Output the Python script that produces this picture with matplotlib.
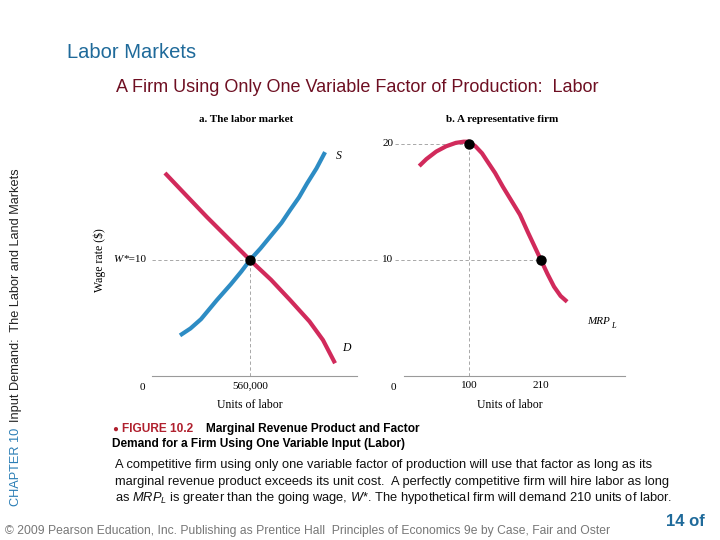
import numpy as np
import matplotlib
matplotlib.use("Agg")
import matplotlib.pyplot as plt

# ---- data ----
# panel a: labour market (x in thousands of units, y in $)
supply_x = [160, 220, 280, 371, 450, 510, 560, 620, 680, 740, 789, 840, 886, 940, 989]
supply_y = [3.5, 4.1, 4.9, 6.55, 7.9, 9.0, 10.0, 11.0, 12.1, 13.2, 14.3, 15.4, 16.6, 17.9, 19.3]
demand_x = [74, 200, 314, 440, 560, 680, 789, 900, 977, 1046]
demand_y = [17.5, 15.5, 13.7, 11.8, 10.0, 8.3, 6.55, 4.7, 3.1, 1.1]
wage_star = 10
labor_star = 560

# panel b: representative firm MRP_L
mrp_x = [24, 35, 50, 65, 80, 92, 100, 110, 120, 127, 140, 152, 165, 178,
         190, 200, 210, 220, 230, 240, 250]
mrp_y = [18.1, 18.7, 19.35, 19.8, 20.1, 20.2, 20.2, 19.8, 19.2, 18.6, 17.5,
         16.3, 15.1, 13.9, 12.4, 11.2, 10.0, 8.8, 7.7, 6.9, 6.4]
firm_pts_x = [100, 210]
firm_pts_y = [20, 10]

BLUE = "#2D8CC4"
RED = "#D12A5B"
GRID = "#9a9a9a"
SERIF = "Liberation Serif"
SANS = "Liberation Sans"

plt.rcParams["font.family"] = SANS
plt.rcParams["mathtext.fontset"] = "custom"
plt.rcParams["mathtext.rm"] = "Liberation Sans"
plt.rcParams["mathtext.it"] = "Liberation Sans:italic"

W, H = 720, 540
fig = plt.figure(figsize=(7.2, 5.4), dpi=100)


def box(x0, y0, x1, y1):
    # pixel box (top-left origin) -> figure fraction
    return [x0 / W, 1 - y1 / H, (x1 - x0) / W, (y1 - y0) / H]


def ftxt(x, y, s, **kw):
    fig.text(x / W, 1 - y / H, s, **kw)


# ---- slide text ----
ftxt(67, 53, "Labor Markets", fontsize=14.5, color="#1F6A9A", va="center")
ftxt(357, 87, "A Firm Using Only One Variable Factor of Production:  Labor",
     fontsize=13, color="#6E0F22", va="center", ha="center")

ftxt(16, 506, "CHAPTER 10", fontsize=9.2, color="#2A7DB5", rotation=90,
     va="bottom", ha="center")
ftxt(16, 422, "Input Demand:  The Labor and Land Markets", fontsize=9.2,
     color="#222222", rotation=90, va="bottom", ha="center")

ftxt(112, 429, "\u25CF", fontsize=7, color="#B0202E", va="center")
ftxt(122, 429, "FIGURE 10.2", fontsize=8.6, color="#B0202E", va="center",
     fontweight="bold")
ftxt(206, 429, "Marginal Revenue Product and Factor", fontsize=8.6,
     va="center", fontweight="bold")
ftxt(112, 444, "Demand for a Firm Using One Variable Input (Labor)", fontsize=8.6,
     va="center", fontweight="bold")

body = [
    "A competitive firm using only one variable factor of production will use that factor as long as its",
    "marginal revenue product exceeds its unit cost.  A perfectly competitive firm will hire labor as long",
    r"as $\mathit{MRP}_L$ is greater than the going wage, $\mathit{W}$*. The hypothetical firm will demand 210 units of labor.",
]
for i, line in enumerate(body):
    ftxt(115, 465 + i * 16.5, line, fontsize=9.3, color="#111111", va="center")

ftxt(5, 531, "\u00a9 2009 Pearson Education, Inc. Publishing as Prentice Hall  "
     "Principles of Economics 9e by Case, Fair and Oster",
     fontsize=8.7, color="#777777", va="center")
ftxt(685, 521, "14 of", fontsize=12, color="#1F6A9A", fontweight="bold",
     va="center", ha="center")
ftxt(685, 552, "36", fontsize=12, color="#1F6A9A", fontweight="bold",
     va="center", ha="center")

# ---- panel a: the labor market ----
px_per_x_a = 0.175
px_per_y = 11.6
ax1 = fig.add_axes(box(152, 140, 372, 376))
ax1.set_xlim(0, 220 / px_per_x_a)
ax1.set_ylim(0, 236 / px_per_y)
ax1.axis("off")

ax1.plot([0, 1171], [0, 0], color=GRID, lw=0.8, clip_on=False)
ax1.plot([0, 1290], [wage_star, wage_star], color=GRID, lw=0.6,
         ls=(0, (4, 3)), clip_on=False)
ax1.plot([labor_star, labor_star], [0, wage_star], color=GRID, lw=0.6,
         ls=(0, (4, 3)))
ax1.plot(demand_x, demand_y, color=RED, lw=3, solid_capstyle="butt")
ax1.plot(supply_x, supply_y, color=BLUE, lw=3, solid_capstyle="butt")
ax1.plot([labor_star], [wage_star], "o", color="black", ms=6.5, zorder=5)

ax1.text(1050, 19.0, "S", family=SERIF, style="italic", fontsize=8.5,
         va="center", clip_on=False)
ax1.text(1085, 2.4, "D", family=SERIF, style="italic", fontsize=8.5,
         va="center", clip_on=False)
ax1.text(-57, -1.0, "0", family=SERIF, fontsize=8, ha="center", va="center")
ax1.text(labor_star, -0.85, "560,000", family=SERIF, fontsize=8,
         ha="center", va="center")
ax1.text(labor_star, -2.5, "Units of labor", family=SERIF, fontsize=8.5,
         ha="center", va="center")
ax1.text(-30, wage_star, "*=10", family=SERIF, fontsize=8, ha="right",
         va="center")
ax1.text(-168, wage_star, "W", family=SERIF, style="italic", fontsize=8,
         ha="right", va="center")
ax1.text(-300, wage_star, "Wage rate ($)", family=SERIF, fontsize=8.5,
         rotation=90, ha="center", va="center")
ax1.text(540, 22.1, "a. The labor market", family=SERIF, fontsize=8,
         fontweight="bold", ha="center", va="center", clip_on=False)

# ---- panel b: a representative firm ----
px_per_x_b = 0.6545
ax2 = fig.add_axes(box(403.5, 140, 630, 376))
ax2.set_xlim(0, 226.5 / px_per_x_b)
ax2.set_ylim(0, 236 / px_per_y)
ax2.axis("off")

ax2.plot([0, 338], [0, 0], color=GRID, lw=0.8, clip_on=False)
ax2.plot([-13, 100], [20, 20], color=GRID, lw=0.6, ls=(0, (4, 3)),
         clip_on=False)
ax2.plot([-13, 210], [10, 10], color=GRID, lw=0.6, ls=(0, (4, 3)),
         clip_on=False)
ax2.plot([100, 100], [0, 20], color=GRID, lw=0.6, ls=(0, (4, 3)))
ax2.plot(mrp_x, mrp_y, color=RED, lw=3, solid_capstyle="butt", clip_on=False)
ax2.plot(firm_pts_x, firm_pts_y, "o", color="black", ms=6.5, zorder=5,
         clip_on=False)

ax2.text(-24, 20, "20", family=SERIF, fontsize=8, ha="center", va="center")
ax2.text(-24, 10, "10", family=SERIF, fontsize=8, ha="center", va="center")
ax2.text(-16, -1.0, "0", family=SERIF, fontsize=8, ha="center", va="center")
for xv in firm_pts_x:
    ax2.text(xv, -0.85, str(xv), family=SERIF, fontsize=8, ha="center",
             va="center")
ax2.text(162, -2.5, "Units of labor", family=SERIF, fontsize=8.5,
         ha="center", va="center")
ax2.text(280, 4.7, "MRP", family=SERIF, style="italic", fontsize=8,
         va="center")
ax2.text(317, 4.35, "L", family=SERIF, style="italic", fontsize=6,
         va="center")
ax2.text(150, 22.1, "b. A representative firm", family=SERIF, fontsize=8,
         fontweight="bold", ha="center", va="center", clip_on=False)

fig.savefig("out.png", dpi=100)
